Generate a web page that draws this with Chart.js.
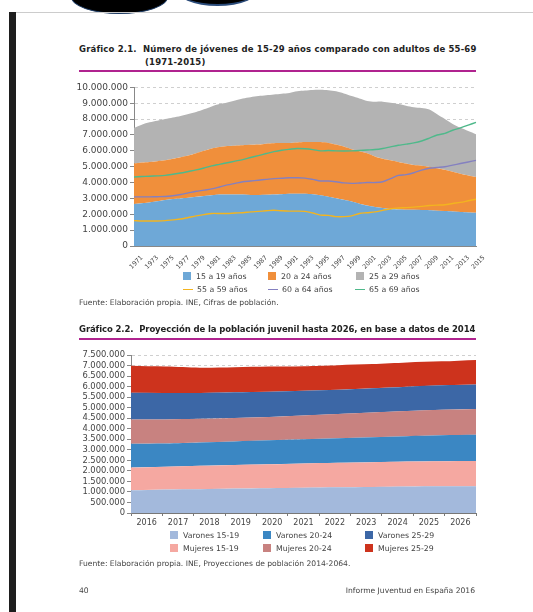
<!DOCTYPE html>
<html>
<head>
<meta charset="utf-8">
<script src="https://cdn.jsdelivr.net/npm/chart.js@4.4.1/dist/chart.umd.min.js"></script>
<style>
  body { margin: 0; width: 533px; height: 612px; background: #fff; position: relative; overflow: hidden; font-family: "DejaVu Sans", sans-serif; color: #333; }
  .abs { position: absolute; }
  .title { font-weight: bold; font-size: 8.5px; color: #222; white-space: nowrap; }
  .rule { height: 2px; background: #b0238f; }
  .src { font-size: 7.6px; color: #444; white-space: nowrap; }
  .leg { font-size: 7.8px; color: #444; white-space: nowrap; }
  .sq { display: inline-block; width: 8px; height: 8px; vertical-align: -1px; margin-right: 5px; }
  .ln { display: inline-block; width: 10px; height: 1.5px; vertical-align: 2px; margin-right: 4px; }
</style>
</head>
<body>
<!-- scan edges -->
<div class="abs" style="left:71px;top:-20px;width:95px;height:32px;border-radius:50%;background:#000;border:1px solid #1d3c66"></div>
<div class="abs" style="left:175px;top:-30px;width:85px;height:34px;border-radius:50%;background:#000;border-bottom:2px solid #2a4b7a"></div>
<div class="abs" style="left:9px;top:12px;width:524px;height:1px;background:#ccc"></div>
<div class="abs" style="left:9px;top:12px;width:7px;height:600px;background:#1e1e1e"></div>

<div class="abs title" style="left:79px;top:44px;letter-spacing:0.17px">Gráfico 2.1.&nbsp; Número de jóvenes de 15-29 años comparado con adultos de 55-69</div>
<div class="abs title" style="left:145px;top:57px;letter-spacing:0.17px">(1971-2015)</div>
<div class="abs rule" style="left:79px;top:70px;width:397px"></div>

<div class="abs" style="left:60px;top:80px;width:430px;height:200px"><canvas id="c1"></canvas></div>

<div class="abs leg" style="left:183px;top:272px"><span class="sq" style="background:#6ea8d7"></span>15 a 19 años</div>
<div class="abs leg" style="left:268px;top:272px"><span class="sq" style="background:#f08f3b"></span>20 a 24 años</div>
<div class="abs leg" style="left:356px;top:272px"><span class="sq" style="background:#b3b3b3"></span>25 a 29 años</div>
<div class="abs leg" style="left:183px;top:285px"><span class="ln" style="background:#f3b41f"></span>55 a 59 años</div>
<div class="abs leg" style="left:268px;top:285px"><span class="ln" style="background:#8480c0"></span>60 a 64 años</div>
<div class="abs leg" style="left:355px;top:285px"><span class="ln" style="background:#4fb98b"></span>65 a 69 años</div>
<div class="abs src" style="left:79px;top:298px">Fuente: Elaboración propia. INE, Cifras de población.</div>

<div class="abs title" style="left:79px;top:324px;letter-spacing:-0.1px">Gráfico 2.2.&nbsp; Proyección de la población juvenil hasta 2026, en base a datos de 2014</div>
<div class="abs rule" style="left:79px;top:338px;width:397px"></div>

<div class="abs" style="left:60px;top:348px;width:420px;height:180px"><canvas id="c2"></canvas></div>

<div class="abs leg" style="left:170px;top:531px"><span class="sq" style="background:#a3b9dc"></span>Varones 15-19</div>
<div class="abs leg" style="left:263px;top:531px"><span class="sq" style="background:#3b87c3"></span>Varones 20-24</div>
<div class="abs leg" style="left:365px;top:531px"><span class="sq" style="background:#3c67a6"></span>Varones 25-29</div>
<div class="abs leg" style="left:170px;top:544px"><span class="sq" style="background:#f5a8a1"></span>Mujeres 15-19</div>
<div class="abs leg" style="left:263px;top:544px"><span class="sq" style="background:#c88280"></span>Mujeres 20-24</div>
<div class="abs leg" style="left:365px;top:544px"><span class="sq" style="background:#cd331d"></span>Mujeres 25-29</div>
<div class="abs src" style="left:79px;top:559px">Fuente: Elaboración propia. INE, Proyecciones de población 2014-2064.</div>

<div class="abs src" style="left:79px;top:586px">40</div>
<div class="abs src" style="right:58px;top:586px">Informe Juventud en España 2016</div>

<script>
// Gráfico 2.1 (millones de personas)
const years1 = [];
for (let y = 1971; y <= 2015; y++) years1.push(String(y));

const j15_19 = [2.65,2.70,2.75,2.82,2.90,2.96,3.00,3.04,3.10,3.16,3.20,3.24,3.25,3.25,3.24,3.22,3.22,3.23,3.25,3.27,3.29,3.30,3.29,3.26,3.20,3.11,3.01,2.91,2.80,2.67,2.55,2.46,2.39,2.33,2.30,2.29,2.28,2.27,2.26,2.23,2.20,2.18,2.15,2.12,2.10];
const j20_24 = [2.55,2.56,2.55,2.53,2.50,2.54,2.60,2.66,2.75,2.84,2.95,3.00,3.05,3.07,3.11,3.16,3.18,3.22,3.23,3.22,3.21,3.23,3.26,3.30,3.35,3.39,3.39,3.36,3.30,3.31,3.30,3.19,3.11,3.07,3.00,2.91,2.82,2.79,2.74,2.67,2.60,2.50,2.41,2.33,2.25];
const j25_29 = [2.25,2.39,2.50,2.55,2.60,2.60,2.60,2.62,2.60,2.62,2.65,2.71,2.75,2.86,2.95,3.00,3.05,3.05,3.07,3.11,3.15,3.22,3.25,3.28,3.30,3.32,3.35,3.35,3.35,3.32,3.30,3.45,3.60,3.63,3.65,3.65,3.65,3.64,3.60,3.40,3.20,3.02,2.89,2.80,2.70];
const a55_59 = [1.60,1.58,1.58,1.58,1.60,1.65,1.70,1.80,1.90,1.98,2.05,2.05,2.05,2.08,2.10,2.15,2.18,2.22,2.25,2.22,2.20,2.20,2.18,2.08,1.95,1.93,1.85,1.85,1.90,2.05,2.10,2.15,2.25,2.35,2.40,2.42,2.45,2.50,2.55,2.58,2.60,2.68,2.75,2.85,2.95];
const a60_64 = [3.10,3.10,3.10,3.11,3.12,3.17,3.25,3.35,3.45,3.52,3.60,3.72,3.85,3.95,4.05,4.10,4.15,4.20,4.25,4.27,4.30,4.30,4.28,4.20,4.10,4.10,4.05,3.98,3.95,3.97,4.00,4.00,4.05,4.25,4.45,4.50,4.62,4.78,4.90,4.95,5.00,5.10,5.20,5.30,5.40];
const a65_69 = [4.35,4.38,4.40,4.42,4.45,4.52,4.60,4.70,4.80,4.92,5.05,5.15,5.25,5.35,5.45,5.58,5.70,5.83,5.95,6.04,6.10,6.15,6.13,6.08,6.00,6.02,6.00,5.99,6.00,6.02,6.05,6.08,6.15,6.25,6.35,6.42,6.50,6.62,6.80,7.00,7.10,7.30,7.45,7.62,7.80];

// Gráfico 2.2 (millones de personas)
const years2 = ["2016","2017","2018","2019","2020","2021","2022","2023","2024","2025","2026"];
const v15_19 = [1.08,1.12,1.13,1.16,1.18,1.20,1.22,1.24,1.26,1.27,1.27];
const m15_19 = [1.08,1.08,1.11,1.12,1.13,1.15,1.16,1.17,1.18,1.19,1.20];
const v20_24 = [1.13,1.10,1.11,1.12,1.14,1.15,1.17,1.19,1.21,1.23,1.24];
const m20_24 = [1.15,1.14,1.12,1.11,1.11,1.13,1.15,1.17,1.19,1.21,1.23];
const v25_29 = [1.27,1.26,1.23,1.22,1.20,1.17,1.15,1.15,1.16,1.16,1.16];
const m25_29 = [1.28,1.25,1.20,1.19,1.19,1.17,1.17,1.15,1.15,1.14,1.17];

const mill = arr => arr.map(v => Math.round(v * 1000000));
const fmt = v => String(v).replace(/\B(?=(\d{3})+(?!\d))/g, ".");

Chart.defaults.font.family = "'DejaVu Sans', sans-serif";
Chart.defaults.font.size = 9;
Chart.defaults.color = "#444";
Chart.defaults.animation = false;
Chart.defaults.maintainAspectRatio = false;
Chart.defaults.plugins.legend.display = false;
Chart.defaults.plugins.tooltip.enabled = false;

const area = (label, data, color, stack) => ({
    label, data: mill(data), backgroundColor: color, borderColor: color,
    borderWidth: 0, pointRadius: 0, fill: "stack", stack, tension: 0.3
});
const line = (label, data, color, stack) => ({
    label, data: mill(data), borderColor: color, backgroundColor: color,
    borderWidth: 1.4, pointRadius: 0, fill: false, stack, tension: 0.3
});

/* Gráfico 2.1 */
new Chart(document.getElementById("c1"), {
    type: "line",
    data: {
        labels: years1,
        datasets: [
            area("15 a 19 años", j15_19, "#6ea8d7", "a"),
            area("20 a 24 años", j20_24, "#f08f3b", "a"),
            area("25 a 29 años", j25_29, "#b3b3b3", "a"),
            line("55 a 59 años", a55_59, "#f3b41f", "l1"),
            line("60 a 64 años", a60_64, "#8480c0", "l2"),
            line("65 a 69 años", a65_69, "#4fb98b", "l3")
        ]
    },
    options: {
        layout: { padding: { top: 2, right: 14 } },
        plugins: { filler: { drawTime: "beforeDatasetsDraw" } },
        scales: {
            x: {
                grid: { display: false },
                border: { color: "#888" },
                ticks: {
                    autoSkip: false, maxRotation: 45, minRotation: 45, padding: 0,
                    labelOffset: 8, font: { size: 6.3 },
                    callback: (v, i) => i % 2 === 0 ? years1[i] : ""
                },
                afterFit: s => { s.height = 34; }
            },
            y: {
                stacked: true, min: 0, max: 10000000,
                border: { color: "#888", dash: [3, 3] },
                grid: { color: "#cfcfcf", tickLength: 4, tickColor: "#888", tickBorderDash: [] },
                ticks: { stepSize: 1000000, padding: 2, autoSkip: false, callback: v => fmt(v) },
                afterFit: s => { s.width = 74; }
            }
        }
    }
});

/* Gráfico 2.2 */
new Chart(document.getElementById("c2"), {
    type: "line",
    data: {
        labels: years2,
        datasets: [
            Object.assign(area("Varones 15-19", v15_19, "#a3b9dc", "b"), { xAxisID: "xd" }),
            Object.assign(area("Mujeres 15-19", m15_19, "#f5a8a1", "b"), { xAxisID: "xd" }),
            Object.assign(area("Varones 20-24", v20_24, "#3b87c3", "b"), { xAxisID: "xd" }),
            Object.assign(area("Mujeres 20-24", m20_24, "#c88280", "b"), { xAxisID: "xd" }),
            Object.assign(area("Varones 25-29", v25_29, "#3c67a6", "b"), { xAxisID: "xd" }),
            Object.assign(area("Mujeres 25-29", m25_29, "#cd331d", "b"), { xAxisID: "xd" })
        ]
    },
    options: {
        layout: { padding: { top: 2, right: 4 } },
        scales: {
            xd: { type: "linear", display: false, min: 2016, max: 2026 },
            x: {
                type: "category", offset: true,
                grid: { display: true, drawOnChartArea: false, offset: true, tickLength: 3, color: "#777" },
                border: { color: "#777" },
                ticks: { padding: 2, font: { size: 8 } },
                afterFit: s => { s.height = 15; }
            },
            y: {
                stacked: true, min: 0, max: 7500000,
                border: { color: "#888", dash: [3, 3] },
                grid: { color: "#cfcfcf", tickLength: 4, tickColor: "#888", tickBorderDash: [] },
                ticks: { stepSize: 500000, padding: 2, autoSkip: false, font: { size: 8.4 }, callback: v => fmt(v) },
                afterFit: s => { s.width = 71; }
            }
        }
    }
});
</script>
</body>
</html>
